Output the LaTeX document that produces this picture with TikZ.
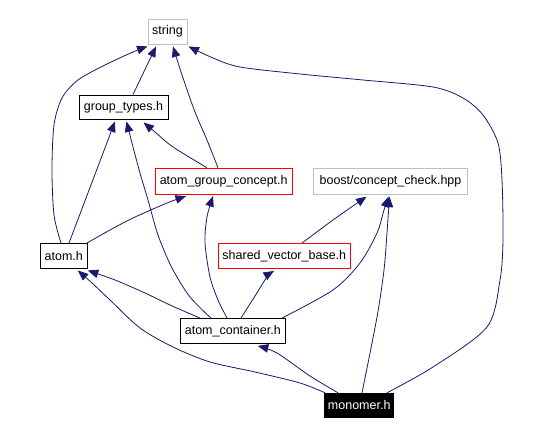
\documentclass[tikz,border=0pt]{standalone}
\usepackage{fontspec}
\setmainfont{Liberation Sans}
\usetikzlibrary{arrows.meta}
\definecolor{edgecol}{RGB}{25,25,112}
\definecolor{greyb}{RGB}{191,191,191}
\begin{document}
\begin{tikzpicture}[x=1pt,y=-1pt,
  box/.style={draw, rectangle, inner sep=0pt, line width=0.9pt, minimum height=25pt, font=\fontsize{12.5}{15}\selectfont, anchor=center},
  edge/.style={draw=edgecol, line width=0.8pt, -{Triangle[length=10.5pt,width=8.5pt]}, line join=round}]
\useasboundingbox (0,0) rectangle (536,435);
\fill[white] (0,0) rectangle (536,435);
% nodes
\node[box, draw=greyb, minimum width=39pt] (str) at (167.5,31.5) {string};
\node[box, draw=black, minimum width=89pt, minimum height=24pt] (gt) at (123.5,107) {group\_types.h};
\node[box, draw=red, minimum width=137pt, minimum height=26pt] (agc) at (223.7,181.2) {atom\_group\_concept.h};
\node[box, draw=greyb, minimum width=154pt, minimum height=26pt] (bst) at (390.5,181.2) {boost/concept\_check.hpp};
\node[box, draw=black, minimum width=47pt] (atom) at (63.8,256) {atom.h};
\node[box, draw=red, minimum width=132pt] (svb) at (284.3,256) {shared\_vector\_base.h};
\node[box, draw=black, minimum width=105pt] (ac) at (232.8,331) {atom\_container.h};
\node[box, draw=black, fill=black, text=white, minimum width=69pt, minimum height=24.5pt] (mon) at (359.2,405.5) {monomer.h};
% edges
\draw[edge] ([xshift=9.5pt]gt.north) -- ([xshift=-11.5pt,yshift=-2pt]str.south);
\draw[edge] plot[smooth] coordinates {([xshift=-2.8pt]atom.north) (54,215) (52,170) (54,125) (62,98) (78,80) (105,65) (133,52) ([xshift=-20pt,yshift=-2pt]str.south)};
\draw[edge] plot[smooth] coordinates {([xshift=-5.7pt]agc.north) (207,140) (195,112) (183,78) ([xshift=5.5pt,yshift=-2pt]str.south)};
\draw[edge] plot[smooth] coordinates {([xshift=27.8pt]mon.north) (433,367) (487,327) (500,280) (503,240) (502,180) (498,143) (483,115) (463,98) (433,87) (363,80) (300,74) (240,67) (213,58) ([xshift=21pt,yshift=-2pt]str.south)};
\draw[edge] ([xshift=5.2pt]atom.north) -- ([xshift=-8.5pt,yshift=-2pt]gt.south);
\draw[edge] plot[smooth] coordinates {([xshift=-21.8pt]ac.north) (190,297) (172,268) (158,235) (148,200) (140,173) (133,147) ([xshift=3pt,yshift=-2pt]gt.south)};
\draw[edge] plot[smooth] coordinates {([xshift=-16.7pt]agc.north) (173,147) (155,132) ([xshift=20pt,yshift=-3pt]gt.south)};
\draw[edge] plot[smooth] coordinates {([xshift=23.2pt]atom.north) (110,230) (133,218) (167,203) ([xshift=-37.7pt,yshift=-1.5pt]agc.south)};
\draw[edge] plot[smooth] coordinates {([xshift=-5.8pt]ac.north) (218,300) (210,277) (205,243) (207,217) ([xshift=-10.7pt,yshift=-1.5pt]agc.south)};
\draw[edge] plot[smooth] coordinates {([xshift=17.7pt]svb.north) (333,220) (353,206) ([xshift=-24pt,yshift=-2pt]bst.south)};
\draw[edge] plot[smooth] coordinates {([xshift=49.2pt]ac.north) (333,290) (360,263) (377,233) (384,210) ([xshift=-2pt,yshift=-2pt]bst.south)};
\draw[edge] plot[smooth] coordinates {([xshift=2.8pt]mon.north) (377,317) (384,270) (387,233) ([xshift=-1pt,yshift=-2pt]bst.south)};
\draw[edge] plot[smooth] coordinates {([xshift=-32.8pt]ac.north) (170,305) (145,293) (115,280) ([xshift=24pt,yshift=-1.5pt]atom.south)};
\draw[edge] plot[smooth] coordinates {([xshift=-34.2pt]mon.north) (300,383) (255,372) (210,362) (173,347) (140,328) (110,300) (92,283) ([xshift=14pt,yshift=-1.5pt]atom.south)};
\draw[edge] plot[smooth] coordinates {([xshift=-21.2pt]mon.north) (310,376) (277,353) ([xshift=25pt,yshift=-2pt]ac.south)};
\draw[edge] plot[smooth] coordinates {([xshift=8.2pt]ac.north) (255,296) (267,277) ([xshift=-10.3pt,yshift=-2pt]svb.south)};
\end{tikzpicture}
\end{document}
